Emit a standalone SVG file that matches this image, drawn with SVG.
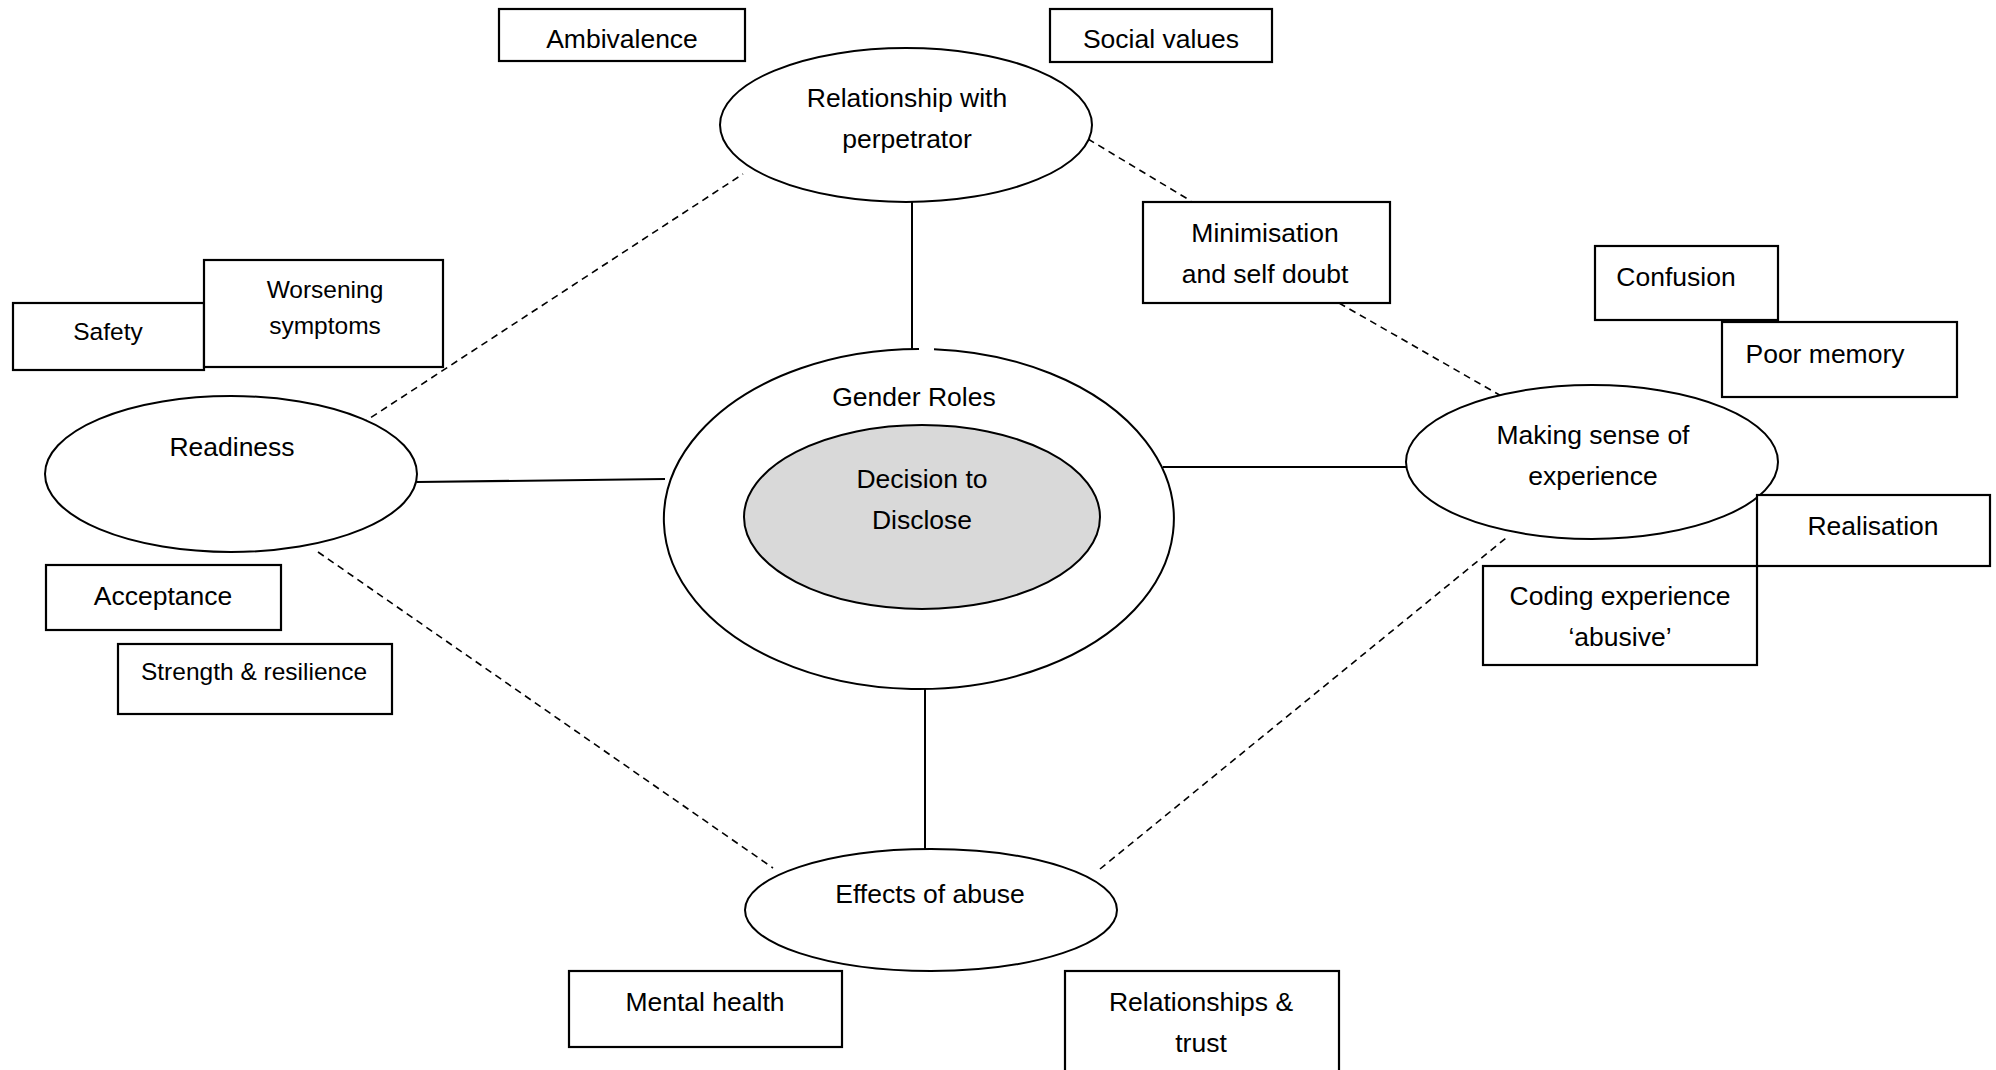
<svg xmlns="http://www.w3.org/2000/svg" width="1996" height="1070" viewBox="0 0 1996 1070">
  <style>
    .bg { fill: #ffffff; }
    .solid { stroke: #000; stroke-width: 2; fill: none; }
    .dash { stroke: #000; stroke-width: 1.6; fill: none; stroke-dasharray: 7 5; }
    .node { stroke: #000; stroke-width: 2; fill: #ffffff; }
    .core { stroke: #000; stroke-width: 2; fill: #d9d9d9; }
    .box { stroke: #000; stroke-width: 2.2; fill: #ffffff; }
    text { font-family: "Liberation Sans", Arial, sans-serif; font-size: 26.5px; fill: #000; text-anchor: middle; }
    text.sm { font-size: 24.5px; }
  </style>
  <rect class="bg" x="0" y="0" width="1996" height="1070"/>

  <!-- connectors -->
  <g id="connectors">
    <line class="solid" x1="912" y1="202" x2="912" y2="350"/>
    <line class="solid" x1="417" y1="482" x2="665" y2="479"/>
    <line class="solid" x1="1163" y1="467" x2="1407" y2="467"/>
    <line class="solid" x1="925" y1="689" x2="925" y2="849"/>
    <line class="dash" x1="361" y1="424" x2="743" y2="174"/>
    <line class="dash" x1="1088" y1="139" x2="1191" y2="201"/>
    <line class="dash" x1="1339" y1="303" x2="1503" y2="397"/>
    <line class="dash" x1="318" y1="552" x2="773" y2="868"/>
    <line class="dash" x1="1100" y1="869" x2="1506" y2="538"/>
  </g>

  <!-- central theme -->
  <g id="gender-roles">
    <path class="node" d="M 934 349.3 A 255 170 0 1 1 919 349"/>
    <text x="914" y="406">Gender Roles</text>
  </g>
  <g id="decision-to-disclose">
    <ellipse class="core" cx="922" cy="517" rx="178" ry="92"/>
    <text x="922" y="488">Decision to</text>
    <text x="922" y="529">Disclose</text>
  </g>

  <!-- main themes -->
  <g id="relationship-with-perpetrator">
    <ellipse class="node" cx="906" cy="125" rx="186" ry="77"/>
    <text x="907" y="107">Relationship with</text>
    <text x="907" y="148">perpetrator</text>
  </g>
  <g id="readiness">
    <ellipse class="node" cx="231" cy="474" rx="186" ry="78"/>
    <text x="232" y="456">Readiness</text>
  </g>
  <g id="making-sense">
    <ellipse class="node" cx="1592" cy="462" rx="186" ry="77"/>
    <text x="1593" y="444">Making sense of</text>
    <text x="1593" y="485">experience</text>
  </g>
  <g id="effects-of-abuse">
    <ellipse class="node" cx="931" cy="910" rx="186" ry="61"/>
    <text x="930" y="903">Effects of abuse</text>
  </g>

  <!-- sub-themes -->
  <g id="ambivalence">
    <rect class="box" x="499" y="9" width="246" height="52"/>
    <text x="622" y="48">Ambivalence</text>
  </g>
  <g id="social-values">
    <rect class="box" x="1050" y="9" width="222" height="53"/>
    <text x="1161" y="48">Social values</text>
  </g>
  <g id="minimisation">
    <rect class="box" x="1143" y="202" width="247" height="101"/>
    <text x="1265" y="242">Minimisation</text>
    <text x="1265" y="283">and self doubt</text>
  </g>
  <g id="confusion">
    <rect class="box" x="1595" y="246" width="183" height="74"/>
    <text x="1676" y="286">Confusion</text>
  </g>
  <g id="poor-memory">
    <rect class="box" x="1722" y="322" width="235" height="75"/>
    <text x="1825" y="363">Poor memory</text>
  </g>
  <g id="realisation">
    <rect class="box" x="1757" y="495" width="233" height="71"/>
    <text x="1873" y="535">Realisation</text>
  </g>
  <g id="coding-experience">
    <rect class="box" x="1483" y="566" width="274" height="99"/>
    <text x="1620" y="605">Coding experience</text>
    <text x="1620" y="646">‘abusive’</text>
  </g>
  <g id="safety">
    <rect class="box" x="13" y="303" width="191" height="67"/>
    <text class="sm" x="108" y="340">Safety</text>
  </g>
  <g id="worsening-symptoms">
    <rect class="box" x="204" y="260" width="239" height="107"/>
    <text class="sm" x="325" y="298">Worsening</text>
    <text class="sm" x="325" y="334">symptoms</text>
  </g>
  <g id="acceptance">
    <rect class="box" x="46" y="565" width="235" height="65"/>
    <text x="163" y="605">Acceptance</text>
  </g>
  <g id="strength-resilience">
    <rect class="box" x="118" y="644" width="274" height="70"/>
    <text class="sm" x="254" y="680">Strength &amp; resilience</text>
  </g>
  <g id="mental-health">
    <rect class="box" x="569" y="971" width="273" height="76"/>
    <text x="705" y="1011">Mental health</text>
  </g>
  <g id="relationships-trust">
    <rect class="box" x="1065" y="971" width="274" height="110"/>
    <text x="1201" y="1011">Relationships &amp;</text>
    <text x="1201" y="1052">trust</text>
  </g>
</svg>
